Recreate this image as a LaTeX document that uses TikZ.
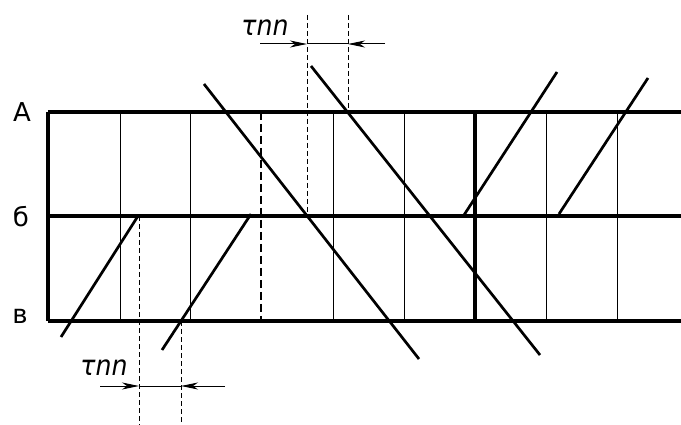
\documentclass[tikz,border=0pt]{standalone}
\usepackage{fontspec}
\setmainfont{DejaVu Sans}
\newfontfamily\condfont{DejaVu Sans Condensed}
\usetikzlibrary{arrows.meta}
\tikzset{
  rowline/.style={line width=3.4pt},
  cellline/.style={line width=1pt},
  bigcell/.style={line width=3.4pt},
  dashcell/.style={line width=2.8pt, dash pattern=on 8pt off 4pt},
  pulse/.style={line width=2.7pt},
  timemark/.style={line width=1pt, dash pattern=on 5pt off 3pt},
  dimline/.style={line width=1pt},
  dimarrow/.style={line width=1pt, -{Stealth[length=17pt,width=7pt,inset=5pt]}},
  rowlabel/.style={font=\fontsize{26}{28}\selectfont, inner sep=0pt},
  taulabel/.style={font=\condfont\fontsize{28}{30}\selectfont\itshape, inner sep=0pt}
}

\begin{document}
\begin{tikzpicture}[x=1pt, y=-1pt]
  \useasboundingbox (0,0) rectangle (681,425);
  % row lines
  \draw[rowline] (48,112) -- (681,112);
  \draw[rowline] (48,216) -- (681,216);
  \draw[rowline] (48,321) -- (681,321);
  \node[rowlabel] (la) at (22,112) {А};
  \node[rowlabel] (lb) at (21,217) {б};
  \node[rowlabel] (lv) at (20,316) {в};
  % cells
  \draw[bigcell] (48,112) -- (48,321);
  \foreach \x in {120,190,333,404,546,617}
    \draw[cellline] (\x,112) -- (\x,321);
  \draw[dashcell] (261,112) -- (261,321);
  \draw[bigcell] (475,112) -- (475,321);
  % pulses
  \draw[pulse] (61,337) -- (138,216);
  \draw[pulse] (162,350) -- (251,214);
  \draw[pulse] (204,84) -- (419,359);
  \draw[pulse] (311,66) -- (540,355);
  \draw[pulse] (464,215) -- (557,72);
  \draw[pulse] (559,214) -- (648,78);
  % time marks, top
  \coordinate (t1) at (307,44);
  \coordinate (t2) at (348,44);
  \coordinate (tl) at (260,44);
  \coordinate (tr) at (385,44);
  \draw[timemark] (307,15) -- (307,216);
  \draw[timemark] (348,15) -- (348,112);
  \draw[dimline] (t1) -- (t2);
  \draw[dimarrow] (tl) -- (t1);
  \draw[dimarrow] (tr) -- (t2);
  \node[taulabel] (tau1) at (265,28) {τnn};
  % time marks, bottom
  \coordinate (b1) at (139,386);
  \coordinate (b2) at (181,386);
  \coordinate (bl) at (100,386);
  \coordinate (br) at (225,386);
  \draw[timemark] (139,216) -- (139,425);
  \draw[timemark] (181,321) -- (181,425);
  \draw[dimline] (b1) -- (b2);
  \draw[dimarrow] (bl) -- (b1);
  \draw[dimarrow] (br) -- (b2);
  \node[taulabel] (tau2) at (104,368) {τnn};
\end{tikzpicture}
\end{document}
